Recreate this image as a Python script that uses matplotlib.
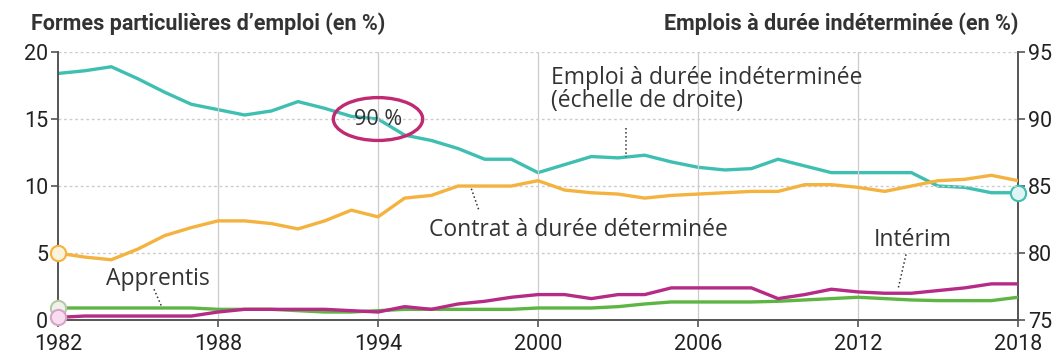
import matplotlib.pyplot as plt
from matplotlib.patches import Ellipse

# Years 1982 -> 2018
years = list(range(1982, 2019))

# Emploi a duree indeterminee (echelle de droite, en %)
cdi = [93.4, 93.6, 93.9, 93.0, 92.0, 91.1, 90.7, 90.3, 90.6, 91.3, 90.8, 90.2,
       90.0, 88.8, 88.4, 87.8, 87.0, 87.0, 86.0, 86.6, 87.2, 87.1, 87.3, 86.8,
       86.4, 86.2, 86.3, 87.0, 86.5, 86.0, 86.0, 86.0, 86.0, 85.0, 84.9, 84.5, 84.5]

# Contrat a duree determinee (en %)
cdd = [5.0, 4.7, 4.5, 5.3, 6.3, 6.9, 7.4, 7.4, 7.2, 6.8, 7.4, 8.2,
       7.7, 9.1, 9.3, 10.0, 10.0, 10.0, 10.4, 9.7, 9.5, 9.4, 9.1, 9.3,
       9.4, 9.5, 9.6, 9.6, 10.1, 10.1, 9.9, 9.6, 10.0, 10.4, 10.5, 10.8, 10.4]

# Interim (en %)
interim = [0.2, 0.3, 0.3, 0.3, 0.3, 0.3, 0.6, 0.8, 0.8, 0.8, 0.8, 0.7,
           0.6, 1.0, 0.8, 1.2, 1.4, 1.7, 1.9, 1.9, 1.6, 1.9, 1.9, 2.4,
           2.4, 2.4, 2.4, 1.6, 1.9, 2.3, 2.1, 2.0, 2.0, 2.2, 2.4, 2.7, 2.7]

# Apprentis (en %)
apprentis = [0.9, 0.9, 0.9, 0.9, 0.9, 0.9, 0.8, 0.8, 0.8, 0.7, 0.6, 0.6,
             0.7, 0.8, 0.8, 0.8, 0.8, 0.8, 0.9, 0.9, 0.9, 1.0, 1.2, 1.35,
             1.35, 1.35, 1.35, 1.4, 1.5, 1.6, 1.7, 1.6, 1.5, 1.45, 1.45, 1.45, 1.7]

x_ticks = [1982, 1988, 1994, 2000, 2006, 2012, 2018]

teal = '#3fbfb2'
orange = '#f4b23f'
green = '#5db544'
magenta = '#b52b86'
txt = '#333333'
axis_col = '#555555'

tickfont = ['Roboto', 'DejaVu Sans']
plain = ['Open Sans', 'DejaVu Sans']

fig = plt.figure(figsize=(10.64, 3.58), dpi=100)
ax = fig.add_axes([0.0545, 0.106, 0.9023, 0.7487])
ax2 = ax.twinx()

# grid: vertical solid, horizontal dotted
for xv in x_ticks[1:-1]:
    ax.axvline(xv, color='#cccccc', lw=0.9, zorder=0)
for yv in [5, 10, 15, 20]:
    ax.axhline(yv, color='#cccccc', lw=1.0, ls=(0, (2, 2)), zorder=0)

lw = 2.4
ax.plot(years, apprentis, color=green, lw=lw, zorder=3)
ax.plot(years, interim, color=magenta, lw=lw, zorder=4)
ax.plot(years, cdd, color=orange, lw=lw, zorder=3)
ax2.plot(years, cdi, color=teal, lw=lw, zorder=3)

# open circles at the series ends
ax.plot(years[0], cdd[0], 'o', ms=11, mfc='#fdf3dc', mec=orange, mew=1.5, clip_on=False, zorder=6)
ax.plot(years[0], apprentis[0], 'o', ms=11, mfc='#eef2e8', mec='#b7c9a8', mew=1.5, clip_on=False, zorder=6)
ax.plot(years[0], interim[0], 'o', ms=11, mfc='#f8dcef', mec='#d9a3c8', mew=1.5, clip_on=False, zorder=7)
ax2.plot(years[-1], cdi[-1], 'o', ms=11, mfc='#dff5f3', mec=teal, mew=1.5, clip_on=False, zorder=6)

ax.set_xlim(1982, 2018)
ax.set_ylim(0, 20)
ax2.set_ylim(75, 95)

ax.set_xticks(x_ticks)
ax.set_yticks([0, 5, 10, 15, 20])
ax2.set_yticks([75, 80, 85, 90, 95])

for a in (ax, ax2):
    for s in a.spines.values():
        s.set_color(axis_col)
        s.set_linewidth(1.4)
    a.spines['top'].set_visible(False)
    a.tick_params(colors=axis_col, labelcolor='#222222', length=5, width=1.2, pad=2)
    for lab in a.get_xticklabels() + a.get_yticklabels():
        lab.set_fontfamily(tickfont)
        lab.set_fontsize(15.5)
ax2.spines['left'].set_visible(False)
ax2.spines['bottom'].set_visible(False)
ax.spines['right'].set_visible(False)
ax.tick_params(axis='x', pad=5)
ax.set_zorder(ax2.get_zorder() + 1)
ax.patch.set_visible(False)

# axis titles
fig.text(31 / 1064, 1 - 24 / 358, "Formes particulières d’emploi (en %)", fontfamily=tickfont,
         fontweight='bold', fontsize=15.5, color=txt, va='center', ha='left')
fig.text(1018 / 1064, 1 - 24 / 358, "Emplois à durée indéterminée (en %)", fontfamily=tickfont,
         fontweight='bold', fontsize=15.5, color=txt, va='center', ha='right')

# series labels with dotted leaders
ax.text(2000.5, 17.2, "Emploi à durée indéterminée\n(échelle de droite)", fontfamily=plain,
        fontsize=16.5, color=txt, va='center', ha='left', linespacing=0.95, zorder=8)
ax.plot([2003.3, 2003.3], [14.3, 12.2], color='#333333', lw=1.1, ls=':', zorder=8)

ax.text(1995.9, 6.7, "Contrat à durée déterminée", fontfamily=plain, fontsize=16.5,
        color=txt, va='center', ha='left', zorder=8)
ax2.plot([1997.5, 1997.8], [84.8, 83.1], color='#333333', lw=1.1, ls=':', zorder=8)

ax.text(1983.8, 3.1, "Apprentis", fontfamily=plain, fontsize=16.5, color=txt,
        va='center', ha='left', zorder=8)
ax.plot([1985.6, 1985.9], [2.3, 0.95], color='#333333', lw=1.1, ls=':', zorder=8)

ax.text(2012.6, 6.0, "Intérim", fontfamily=plain, fontsize=16.5, color=txt,
        va='center', ha='left', zorder=8)
ax.plot([2013.8, 2013.5], [4.9, 2.3], color='#333333', lw=1.1, ls=':', zorder=8)

# 90 % callout
ax.text(1994, 15.0, "90 %", fontfamily=plain, fontsize=15.5, color=txt,
        va='center', ha='center', zorder=9)
ax.add_patch(Ellipse((1994, 15.0), 3.35, 3.2, fill=False, ec='#bf2a72', lw=2.4, zorder=9))

fig.savefig('out.png', dpi=100)
